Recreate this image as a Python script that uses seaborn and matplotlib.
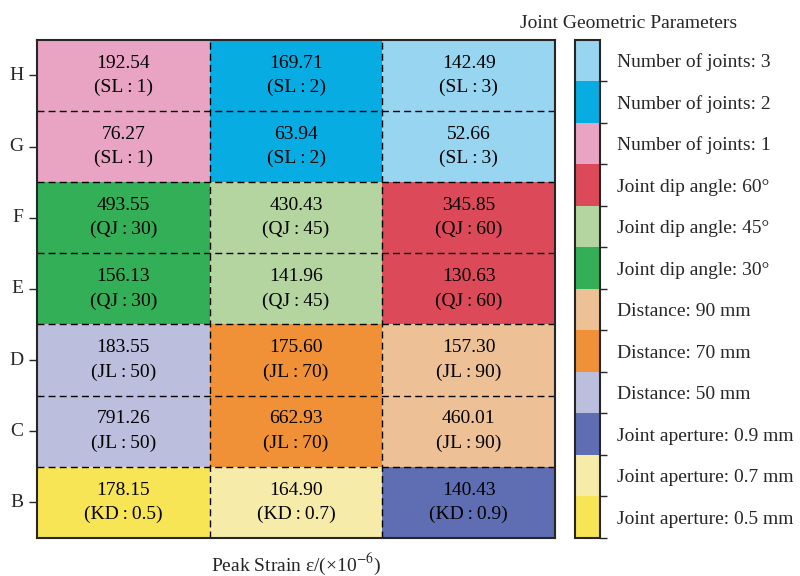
import numpy as np
import matplotlib
matplotlib.use("Agg")
import matplotlib.pyplot as plt
from matplotlib.colors import ListedColormap
import seaborn as sns

rows = ["H", "G", "F", "E", "D", "C", "B"]
values = [
    [192.54, 169.71, 142.49],
    [76.27, 63.94, 52.66],
    [493.55, 430.43, 345.85],
    [156.13, 141.96, 130.63],
    [183.55, 175.60, 157.30],
    [791.26, 662.93, 460.01],
    [178.15, 164.90, 140.43],
]
params = [
    ["SL:1", "SL:2", "SL:3"],
    ["SL:1", "SL:2", "SL:3"],
    ["QJ:30", "QJ:45", "QJ:60"],
    ["QJ:30", "QJ:45", "QJ:60"],
    ["JL:50", "JL:70", "JL:90"],
    ["JL:50", "JL:70", "JL:90"],
    ["KD:0.5", "KD:0.7", "KD:0.9"],
]
# category index into the legend list below (0 = bottom)
codes = [
    [9, 10, 11],
    [9, 10, 11],
    [6, 7, 8],
    [6, 7, 8],
    [3, 4, 5],
    [3, 4, 5],
    [0, 1, 2],
]
categories = [
    "Joint aperture: 0.5 mm", "Joint aperture: 0.7 mm", "Joint aperture: 0.9 mm",
    "Distance: 50 mm", "Distance: 70 mm", "Distance: 90 mm",
    "Joint dip angle: 30°", "Joint dip angle: 45°", "Joint dip angle: 60°",
    "Number of joints: 1", "Number of joints: 2", "Number of joints: 3",
]
colors = [
    "#F8E555", "#F6EBA8", "#5F6DB3",
    "#BCBEDD", "#F09138", "#EEC095",
    "#33AF57", "#B4D5A0", "#DC4959",
    "#E9A4C3", "#06ACE2", "#97D5F0",
]

sns.set_style("ticks")
plt.rcParams["font.family"] = ["Liberation Serif", "DejaVu Serif"]
plt.rcParams["mathtext.fontset"] = "stix"

annot = np.array([[f"{v:.2f}\n({p.replace(':', chr(0x2009) + ':' + chr(0x2009))})"
                   for v, p in zip(vr, pr)]
                  for vr, pr in zip(values, params)])

fig = plt.figure(figsize=(8, 5.76), dpi=100)
ax = fig.add_axes([0.046, 0.066, 0.648, 0.865])
cax = fig.add_axes([0.719, 0.066, 0.031, 0.865])

cmap = ListedColormap(colors)
sns.heatmap(np.array(codes), ax=ax, cbar_ax=cax, cmap=cmap, vmin=-0.5, vmax=11.5,
            annot=annot, fmt="", annot_kws={"fontsize": 14, "color": "black",
                                             "linespacing": 1.55},
            yticklabels=rows, xticklabels=False)

# dashed cell borders
for y in range(1, len(rows)):
    ax.axhline(y, color="black", ls=(0, (5, 3)), lw=1)
for x in range(1, 3):
    ax.axvline(x, color="black", ls=(0, (5, 3)), lw=1)
for s in ax.spines.values():
    s.set_visible(True)
    s.set_linewidth(1.5)
ax.set_xticks([])
ax.tick_params(axis="y", length=6, width=1, labelsize=14, rotation=0)
ax.set_xlabel("Peak Strain ε/(×10$^{-6}$)", fontsize=14, labelpad=10)
ax.set_ylabel("")

cbar = ax.collections[0].colorbar
cbar.set_ticks(range(12))
cbar.set_ticklabels(categories)
cbar.ax.tick_params(which="major", length=0, pad=12, labelsize=14)
cbar.ax.set_yticks(np.arange(-0.5, 11, 1), minor=True)
cbar.ax.tick_params(which="minor", length=5, width=1)
cbar.outline.set_visible(True)
cbar.outline.set_linewidth(1.5)

fig.text(0.786, 0.96, "Joint Geometric Parameters", ha="center", va="center",
         fontsize=14)

fig.savefig("out.png", dpi=100)
